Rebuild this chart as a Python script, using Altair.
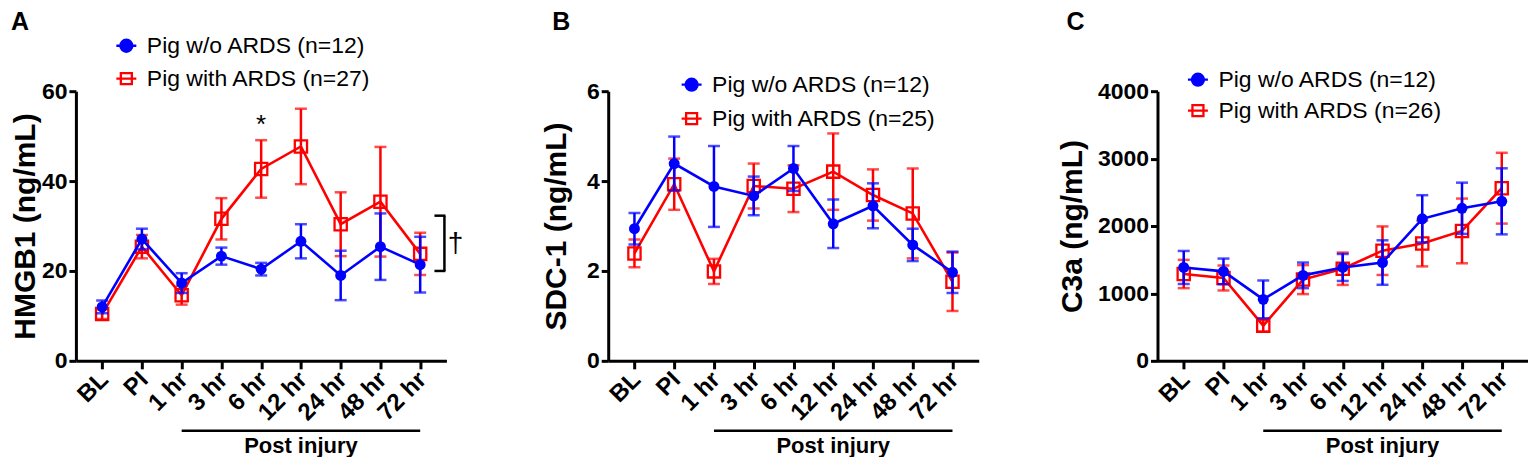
import altair as alt
import pandas as pd

categories = ["BL", "PI", "1 hr", "3 hr", "6 hr", "12 hr", "24 hr", "48 hr", "72 hr"]

# Panel A: HMGB1 (ng/mL)
hmgb1_no = [12.0, 27.1, 17.3, 23.3, 20.4, 26.6, 19.0, 25.4, 21.4]
hmgb1_no_err = [1.4, 2.3, 2.2, 1.9, 1.4, 3.8, 5.5, 7.4, 6.2]
hmgb1_ards = [10.4, 25.4, 14.6, 31.6, 42.7, 47.7, 30.4, 35.4, 23.8]
hmgb1_ards_err = [1.1, 2.6, 2.1, 4.6, 6.4, 8.4, 7.1, 12.2, 4.7]

# Panel B: SDC-1 (ng/mL)
sdc_no = [2.94, 4.39, 3.88, 3.67, 4.28, 3.05, 3.45, 2.58, 1.97]
sdc_no_err = [0.35, 0.60, 0.90, 0.43, 0.50, 0.54, 0.50, 0.36, 0.46]
sdc_ards = [2.39, 3.93, 1.99, 3.89, 3.83, 4.21, 3.69, 3.28, 1.76]
sdc_ards_err = [0.31, 0.57, 0.28, 0.50, 0.52, 0.85, 0.57, 1.00, 0.65]

# Panel C: C3a (ng/mL)
c3a_no = [1385, 1327, 912, 1268, 1385, 1458, 2107, 2263, 2366]
c3a_no_err = [245, 190, 280, 190, 200, 330, 350, 380, 490]
c3a_ards = [1288, 1229, 522, 1205, 1366, 1634, 1741, 1927, 2561]
c3a_ards_err = [210, 185, 90, 215, 240, 360, 340, 480, 525]

n_no = [12, 12, 12]
n_ards = [27, 25, 26]

post_injury_span = ["1 hr", "72 hr"]
post_injury_mid = "12 hr"
post_injury_label = "Post injury"

# Annotations in panel A
star_cat = "6 hr"
star_value = 50.7
bracket_values = [32.3, 20.0]
dagger_value = 24.2

BLUE = "#0000FF"
RED = "#FF0000"
FONT = "Liberation Sans"

CIRCLE_LINE = "M-1,0L1,0M0.6,0A0.6,0.6,0,1,1,-0.6,0A0.6,0.6,0,1,1,0.6,0Z"
SQUARE_LINE = "M-1,0L1,0M-0.55,-0.55L0.55,-0.55L0.55,0.55L-0.55,0.55Z"

W, H = 371, 270


def series_df(mean, err):
    return pd.DataFrame({
        "cat": categories,
        "idx": list(range(len(categories))),
        "mean": mean,
        "lo": [m - e for m, e in zip(mean, err)],
        "hi": [m + e for m, e in zip(mean, err)],
    })


def make_panel(letter, ytitle, ydomain, yticks, title_pad, no_mean, no_err,
               ards_mean, ards_err, nn, na, leg_x, leg_y, leg_rp, letter_x,
               annotate=False):
    xscale = alt.Scale(type="point", domain=categories, padding=0.66)
    xaxis = alt.Axis(title=None, labelAngle=315, labelAlign="right",
                     labelBaseline="middle", labelPadding=7, labelOffset=2,
                     labelFontSize=24, tickSize=8, labelOverlap=False)
    yscale = alt.Scale(domain=ydomain, nice=False)
    yaxis = alt.Axis(values=yticks, title=ytitle, titlePadding=title_pad,
                     format="d", labelFontSize=23, titleFontSize=30,
                     labelPadding=2, tickSize=7)

    def X(field):
        return alt.X(f"{field}:N", scale=xscale, axis=xaxis)

    def Y(field):
        return alt.Y(f"{field}:Q", scale=yscale, axis=yaxis)

    layers = []
    for mean, err, color, kind in [(ards_mean, ards_err, RED, "square"),
                                   (no_mean, no_err, BLUE, "circle")]:
        df = series_df(mean, err)
        base = alt.Chart(df)
        layers.append(base.mark_line(color=color, strokeWidth=2.6).encode(
            x=X("cat"), y=Y("mean"), order=alt.Order("idx:Q")))
        layers.append(base.mark_rule(color=color, strokeWidth=2.5).encode(
            x=X("cat"), y=Y("lo"), y2="hi"))
        layers.append(base.mark_tick(color=color, thickness=2.5, size=12).encode(
            x=X("cat"), y=Y("hi")))
        layers.append(base.mark_tick(color=color, thickness=2.5, size=12).encode(
            x=X("cat"), y=Y("lo")))
        if kind == "circle":
            layers.append(base.mark_point(shape="circle", filled=True, size=120,
                                          color=color, opacity=1).encode(
                x=X("cat"), y=Y("mean")))
        else:
            layers.append(base.mark_point(shape="square", filled=False, size=150,
                                          color=color, strokeWidth=2.3,
                                          opacity=1).encode(
                x=X("cat"), y=Y("mean")))

    # legend-only layer
    lbl_no = f"Pig w/o ARDS (n={nn})"
    lbl_ards = f"Pig with ARDS (n={na})"
    dom = [lbl_no, lbl_ards]
    leg = alt.Legend(orient="none", legendX=leg_x, legendY=leg_y, title=None,
                     labelFont=FONT, labelFontSize=23, labelColor="black",
                     symbolSize=400, symbolStrokeWidth=2.3, rowPadding=leg_rp,
                     labelOffset=9, padding=0, symbolOpacity=1, labelLimit=500)
    leg_df = pd.DataFrame({"group": dom})
    layers.append(alt.Chart(leg_df).transform_filter("false").mark_point(
        filled=False).encode(
        shape=alt.Shape("group:N", scale=alt.Scale(domain=dom, range=[CIRCLE_LINE, SQUARE_LINE]), legend=leg),
        fill=alt.Fill("group:N", scale=alt.Scale(domain=dom, range=[BLUE, "transparent"]), legend=leg),
        stroke=alt.Stroke("group:N", scale=alt.Scale(domain=dom, range=[BLUE, RED]), legend=leg),
    ))

    # Post injury bar + label
    pi_df = pd.DataFrame({"a": [post_injury_span[0]], "b": [post_injury_span[1]],
                          "m": [post_injury_mid], "t": [post_injury_label]})
    layers.append(alt.Chart(pi_df).mark_rule(color="black", strokeWidth=2.5).encode(
        x=X("a"), x2="b", y=alt.value(H + 70)))
    layers.append(alt.Chart(pi_df).mark_text(font=FONT, fontSize=22, fontWeight="bold",
                                             color="black", baseline="alphabetic").encode(
        x=X("m"), y=alt.value(H + 92), text="t:N"))

    # panel letter
    layers.append(alt.Chart(pd.DataFrame({"t": [letter]})).mark_text(
        font=FONT, fontSize=25, fontWeight="bold", color="black",
        align="left", baseline="top").encode(
        x=alt.value(letter_x), y=alt.value(-81), text="t:N"))

    if annotate:
        star_df = pd.DataFrame({"cat": [star_cat], "v": [star_value], "t": ["*"]})
        layers.append(alt.Chart(star_df).mark_text(font=FONT, fontSize=26,
                                                   color="black", baseline="alphabetic").encode(
            x=X("cat"), y=Y("v"), text="t:N"))
        br_df = pd.DataFrame({"v": [bracket_values[0]], "v2": [bracket_values[1]]})
        layers.append(alt.Chart(br_df).mark_rule(color="black", strokeWidth=2.5).encode(
            x=alt.value(W - 2), y=Y("v"), y2="v2"))
        tick_df = pd.DataFrame({"v": bracket_values})
        layers.append(alt.Chart(tick_df).mark_rule(color="black", strokeWidth=2.5).encode(
            x=alt.value(W - 12), x2=alt.value(W - 1), y=Y("v")))
        dag_df = pd.DataFrame({"v": [dagger_value], "t": ["\u2020"]})
        layers.append(alt.Chart(dag_df).mark_text(font=FONT, fontSize=28,
                                                  color="black", baseline="alphabetic").encode(
            x=alt.value(W + 9), y=Y("v"), text="t:N"))

    return alt.layer(*layers).properties(width=W, height=H)


pA = make_panel("A", "HMGB1 (ng/mL)", [0, 60], [0, 20, 40, 60], 1,
                hmgb1_no, hmgb1_no_err, hmgb1_ards, hmgb1_ards_err,
                n_no[0], n_ards[0], 39, -57, 9, -65, annotate=True)
pB = make_panel("B", "SDC-1 (ng/mL)", [0, 6], [0, 2, 4, 6], 15,
                sdc_no, sdc_no_err, sdc_ards, sdc_ards_err,
                n_no[1], n_ards[1], 72, -18, 10, -56)
pC = make_panel("C", "C3a (ng/mL)", [0, 4000], [0, 1000, 2000, 3000, 4000], 10,
                c3a_no, c3a_no_err, c3a_ards, c3a_ards_err,
                n_no[2], n_ards[2], 29, -23, 7, -91)

chart = alt.hconcat(pA, pB, pC, spacing=78).resolve_scale(
    shape="independent", fill="independent", stroke="independent"
).properties(
    padding={"left": 2, "top": 2, "right": 0, "bottom": 0}
).configure_view(stroke=None).configure_axis(
    domainColor="black", domainWidth=3, tickColor="black", tickWidth=3,
    labelColor="black", titleColor="black", labelFont=FONT, titleFont=FONT,
    labelFontWeight="bold", titleFontWeight="bold", grid=False
)

chart.save("out.html", embed_options={"renderer": "svg", "actions": False})
